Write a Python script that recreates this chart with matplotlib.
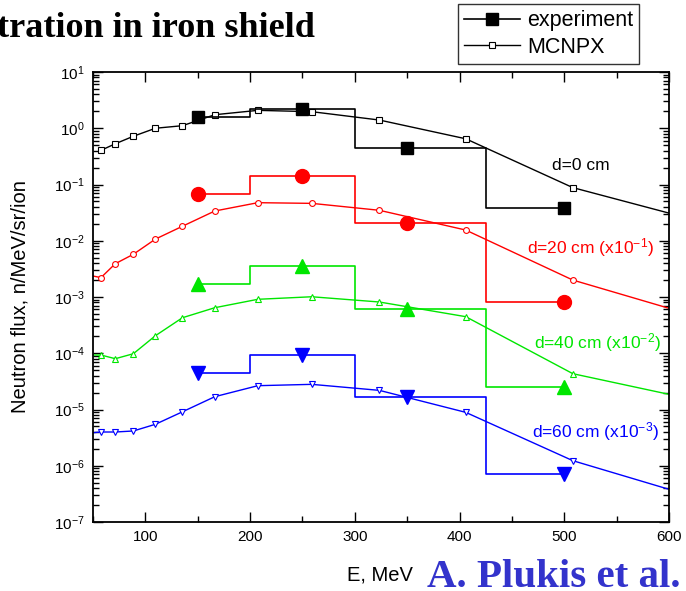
import matplotlib
matplotlib.use("Agg")
import matplotlib.pyplot as plt
from matplotlib.ticker import LogLocator, MultipleLocator, NullFormatter

plt.rcParams['font.family'] = ['Liberation Sans', 'DejaVu Sans']
plt.rcParams['mathtext.fontset'] = 'custom'
plt.rcParams['mathtext.rm'] = 'Liberation Sans'
plt.rcParams['mathtext.it'] = 'Liberation Sans:italic'
plt.rcParams['mathtext.bf'] = 'Liberation Sans:bold'

# ---- data ----
# MCNPX (simulation) curves; first/last values are where the curve meets the axes edge
e_mc0 = [57.6, 71.3, 88.5, 109.6, 135.4, 166.3, 207.4, 258.9, 323.4, 405.9, 508.2, 600]
f_mc0 = [0.405, 0.53, 0.72, 1.0, 1.11, 1.74, 2.08, 1.97, 1.40, 0.65, 0.088, 0.031]

e_mc = [50, 57.6, 71.3, 88.5, 109.6, 135.4, 166.3, 207.4, 258.9, 323.4, 405.9, 508.2, 600]
f_mc20 = [0.00236, 0.00221, 0.00391, 0.00574, 0.0107, 0.0181, 0.0338, 0.0475, 0.0462, 0.0348, 0.0155, 0.0020, 0.00063]
f_mc40 = [9.3e-5, 9.3e-5, 8.0e-5, 9.8e-5, 2.05e-4, 4.28e-4, 6.45e-4, 9.1e-4, 1.01e-3, 8.15e-4, 4.47e-4, 4.33e-5, 1.86e-5]
f_mc60 = [3.87e-6, 3.98e-6, 3.98e-6, 4.15e-6, 5.46e-6, 9.1e-6, 1.69e-5, 2.65e-5, 2.8e-5, 2.19e-5, 8.9e-6, 1.23e-6, 3.81e-7]

# Experiment (histogram bins centred on these energies)
e_exp = [150, 250, 350, 500]
f_exp0 = [1.60, 2.17, 0.452, 0.0387]
f_exp20 = [0.0668, 0.140, 0.0209, 0.000826]
f_exp40 = [1.68e-3, 3.56e-3, 6.04e-4, 2.51e-5]
f_exp60 = [4.52e-5, 9.2e-5, 1.69e-5, 7.1e-7]

labels = ["d=0 cm", "d=20 cm (x10$^{\\mathdefault{-1}}$)",
          "d=40 cm (x10$^{\\mathdefault{-2}}$)", "d=60 cm (x10$^{\\mathdefault{-3}}$)"]
colors = ["black", "#ff0000", "#00e600", "#0000ff"]

fig = plt.figure(figsize=(6.86, 5.91), dpi=100)
ax = fig.add_axes([93/686, 1-522/591, 576/686, 450/591])

# MCNPX
mc_line, = ax.plot(e_mc0, f_mc0, color=colors[0], lw=1.0, marker='s', ms=3.8, mfc='white',
                   mec=colors[0], mew=0.8, markevery=list(range(len(e_mc0)-1)), label='MCNPX')
mc_sets = [(f_mc20, 'o'), (f_mc40, '^'), (f_mc60, 'v')]
for (f, m), c in zip(mc_sets, colors[1:]):
    ax.plot(e_mc, f, color=c, lw=1.0, marker=m, ms=4.2, mfc='white', mec=c, mew=0.8,
            markevery=list(range(1, len(e_mc)-1)))

# Experiment
exp_sets = [(f_exp0, 's', 9), (f_exp20, 'o', 10), (f_exp40, '^', 10.5), (f_exp60, 'v', 10.5)]
exp_lines = []
for (f, m, ms), c in zip(exp_sets, colors):
    ln, = ax.plot(e_exp, f, color=c, lw=1.2, drawstyle='steps-mid', zorder=3,
                  marker=m, ms=ms, label='experiment')
    exp_lines.append(ln)

ax.set_yscale('log')
ax.set_xlim(50, 600)
ax.set_ylim(1e-7, 1e1)
ax.xaxis.set_major_locator(MultipleLocator(100))
ax.xaxis.set_minor_locator(MultipleLocator(50))
ax.yaxis.set_major_locator(LogLocator(base=10, numticks=20))
ax.yaxis.set_minor_locator(LogLocator(base=10, subs=range(2, 10), numticks=20))
ax.yaxis.set_minor_formatter(NullFormatter())
ax.tick_params(which='both', direction='in', top=True, right=True, labelsize=11, width=1.0)
ax.tick_params(which='major', length=7, pad=6)
ax.tick_params(which='minor', length=4)
for s in ax.spines.values():
    s.set_linewidth(1.3)

ax.set_xlabel("E, MeV", fontsize=14.5)
ax.xaxis.label.set_position(((380-93)/576, 0))
ax.xaxis.labelpad = 15
ax.set_ylabel("Neutron flux, n/MeV/sr/ion", fontsize=14.5)
ax.yaxis.set_label_coords(-(93-30)/576, 0.5)

# curve labels
pos = [(610, 166), (654, 248), (661, 343), (659, 432)]
for (px, py), t, c in zip(pos, labels, colors):
    ax.text((px-93)/576, (522-py)/450, t, transform=ax.transAxes, ha='right',
            va='center', color=c, fontsize=12.5)

leg = fig.legend(handles=[exp_lines[0], mc_line], labels=['experiment', 'MCNPX'],
                 loc='upper left', bbox_to_anchor=(458/686, 1-4/591), fontsize=15.5,
                 frameon=True, fancybox=False, edgecolor='black', borderaxespad=0,
                 handlelength=2.6, handletextpad=0.3, borderpad=0.3, labelspacing=0.25)
leg.get_frame().set_linewidth(1.0)

fig.text(-0.004, 1-37/591, "tration in iron shield", family='Liberation Serif',
         weight='bold', fontsize=26, va='baseline', ha='left')
fig.text(427/686, 1-587/591, "A. Plukis et al.", family='Liberation Serif',
         weight='bold', fontsize=29.5, color='#3333cc', va='baseline', ha='left')

fig.savefig("out.png", dpi=100)
